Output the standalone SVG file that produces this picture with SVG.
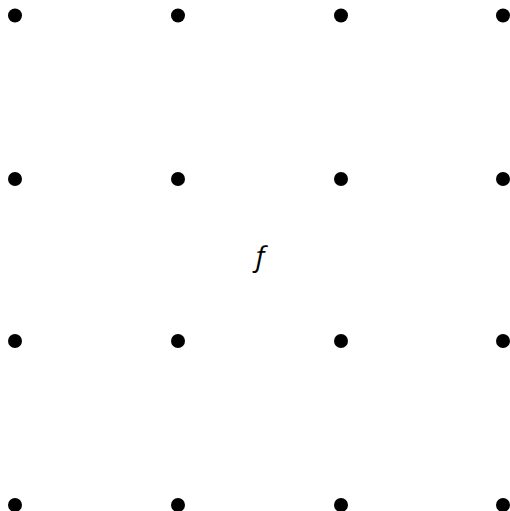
<svg xmlns="http://www.w3.org/2000/svg" width="510" height="511" viewBox="0 0 510 511">
<style>
.d{fill:#000}
.t{font-family:"Open Sans","Liberation Sans",sans-serif;font-style:italic;font-size:28px;fill:#000}
</style>
<rect width="510" height="511" fill="#fff"/>
<g id="dots">
<g id="n00"><circle class="d" cx="15" cy="15.5" r="7"/></g>
<g id="n01"><circle class="d" cx="178" cy="15.5" r="7"/></g>
<g id="n02"><circle class="d" cx="341" cy="15.5" r="7"/></g>
<g id="n03"><circle class="d" cx="503" cy="15.5" r="7"/></g>
<g id="n10"><circle class="d" cx="15" cy="179" r="7"/></g>
<g id="n11"><circle class="d" cx="178" cy="179" r="7"/></g>
<g id="n12"><circle class="d" cx="341" cy="179" r="7"/></g>
<g id="n13"><circle class="d" cx="503" cy="179" r="7"/></g>
<g id="n20"><circle class="d" cx="15" cy="341" r="7"/></g>
<g id="n21"><circle class="d" cx="178" cy="341" r="7"/></g>
<g id="n22"><circle class="d" cx="341" cy="341" r="7"/></g>
<g id="n23"><circle class="d" cx="503" cy="341" r="7"/></g>
<g id="n30"><circle class="d" cx="15" cy="505" r="7"/></g>
<g id="n31"><circle class="d" cx="178" cy="505" r="7"/></g>
<g id="n32"><circle class="d" cx="341" cy="505" r="7"/></g>
<g id="n33"><circle class="d" cx="503" cy="505" r="7"/></g>
</g>
<g id="connectors"></g>
<g id="label"><text class="t" x="260" y="266" text-anchor="middle">f</text></g>
</svg>
